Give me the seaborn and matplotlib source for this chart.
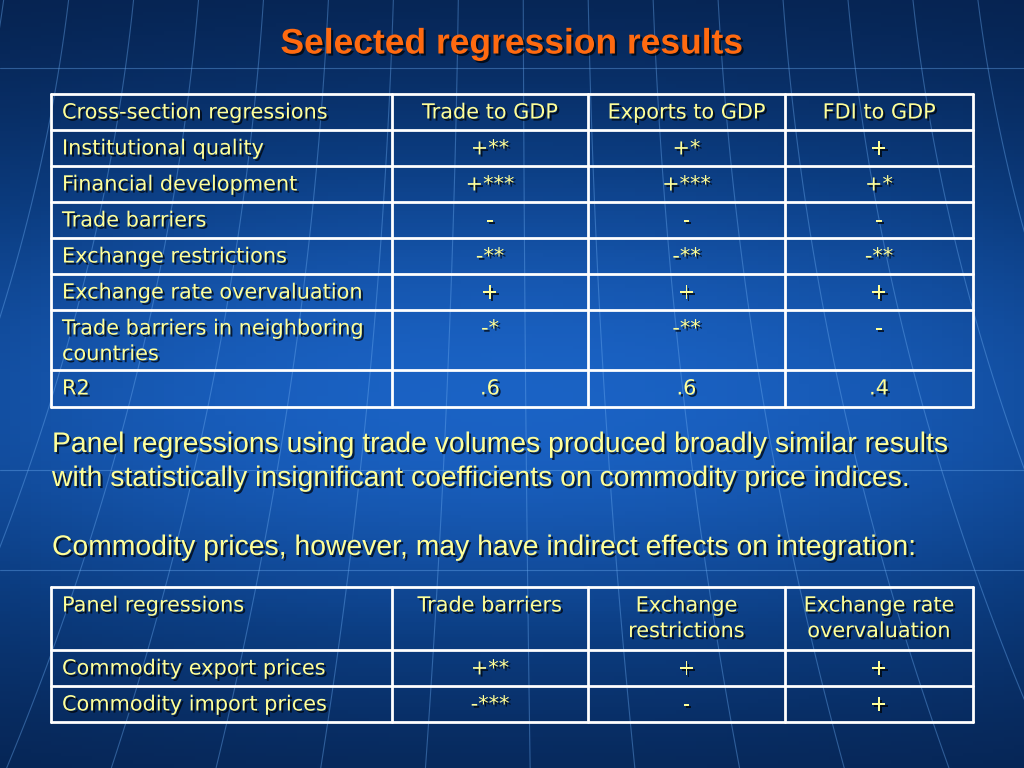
import numpy as np
import matplotlib.pyplot as plt
import matplotlib.patheffects as pe
from matplotlib.colors import LinearSegmentedColormap
import seaborn as sns

sns.set_theme(style="white")

# Slide texts
title = "Selected regression results"

cross_header = ["Cross-section regressions", "Trade to GDP", "Exports to GDP", "FDI to GDP"]
cross_rows = ["Institutional quality", "Financial development", "Trade barriers",
              "Exchange restrictions", "Exchange rate overvaluation",
              "Trade barriers in neighboring\ncountries", "R2"]
trade_gdp = ["+**", "+***", "-", "-**", "+", "-*", ".6"]
exports_gdp = ["+*", "+***", "-", "-**", "+", "-**", ".6"]
fdi_gdp = ["+", "+*", "-", "-**", "+", "-", ".4"]

paragraphs = ["Panel regressions using trade volumes produced broadly similar results\n"
              "with statistically insignificant coefficients on commodity price indices.",
              "Commodity prices, however, may have indirect effects on integration:"]

panel_header = ["Panel regressions", "Trade barriers", "Exchange\nrestrictions",
                "Exchange rate\novervaluation"]
panel_rows = ["Commodity export prices", "Commodity import prices"]
panel_trade_barriers = ["+**", "-***"]
panel_exch_restr = ["+", "-"]
panel_exch_overval = ["+", "+"]

# layout in pixels
col_x = [51, 392, 588, 785, 973]
cross_y = [94, 130, 166, 202, 238, 274, 310, 370, 407]
panel_y = [587, 650, 686, 722]

YELLOW = "#ffff99"
shadow = [pe.SimplePatchShadow(offset=(1.5, -1.5), shadow_rgbFace="black", alpha=0.7), pe.Normal()]

fig = plt.figure(figsize=(10.24, 7.68), dpi=100)

# background gradient via seaborn heatmap
bg_ax = fig.add_axes([0, 0, 1, 1])
yy = np.linspace(0, 1, 200)
grad = np.exp(-((yy - 0.52) / 0.38) ** 2)
xx = np.linspace(-1, 1, 100)
field = grad[:, None] * (1 - 0.25 * xx[None, :] ** 2)
cmap = LinearSegmentedColormap.from_list("slide", ["#041c44", "#0b3c80", "#1a62c4"])
sns.heatmap(field, ax=bg_ax, cmap=cmap, cbar=False, xticklabels=False, yticklabels=False,
            vmin=0, vmax=1)
bg_ax.set_axis_off()

ax = fig.add_axes([0, 0, 1, 1])
ax.set_xlim(0, 1024)
ax.set_ylim(768, 0)
ax.set_axis_off()
ax.patch.set_alpha(0)

# faint globe grid lines
for x0 in np.arange(-300, 1350, 75):
    t = np.linspace(0, 768, 50)
    xs = 512 + (x0 - 512) * (1 + 0.35 * (t / 768 - 0.1) ** 2) + (x0 - 512) * 0.25 * (t / 768 - 0.55)
    ax.plot(xs, t, color="#6aaaf0", lw=0.8, alpha=0.4, zorder=1)
for y0 in [68, 470, 570]:
    ax.plot([0, 1024], [y0, y0], color="#6aaaf0", lw=0.8, alpha=0.4, zorder=1)

ax.text(512, 44, title, color="#ff6a10", fontsize=25.5, fontweight="bold",
        family=["Liberation Sans Narrow", "Liberation Sans"], ha="center", va="center",
        path_effects=shadow, zorder=5)


def draw_table(header, rows, cols, ys):
    body = [header] + [[r] + [c[i] for c in cols] for i, r in enumerate(rows)]
    for y in ys:
        ax.plot([col_x[0], col_x[-1]], [y, y], color="white", lw=2, zorder=3)
    for x in col_x:
        ax.plot([x, x], [ys[0], ys[-1]], color="white", lw=2, zorder=3)
    for i, row in enumerate(body):
        top = ys[i]
        for j, cell in enumerate(row):
            if j == 0:
                tx, ha = col_x[0] + 11, "left"
            else:
                tx, ha = (col_x[j] + col_x[j + 1]) / 2, "center"
            ax.text(tx, top + 8.5, cell, color=YELLOW, fontsize=15, family="DejaVu Sans",
                    ha=ha, va="top", multialignment=ha, linespacing=1.35,
                    path_effects=shadow, zorder=5)


draw_table(cross_header, cross_rows, [trade_gdp, exports_gdp, fdi_gdp], cross_y)
draw_table(panel_header, panel_rows,
           [panel_trade_barriers, panel_exch_restr, panel_exch_overval], panel_y)

ax.text(52, 462, paragraphs[0], color=YELLOW, fontsize=20.4, family="Liberation Sans",
        ha="left", va="center", linespacing=1.4, path_effects=shadow, zorder=5)
ax.text(52, 548, paragraphs[1], color=YELLOW, fontsize=20.4, family="Liberation Sans",
        ha="left", va="center", path_effects=shadow, zorder=5)

fig.savefig("out.png", dpi=100)
